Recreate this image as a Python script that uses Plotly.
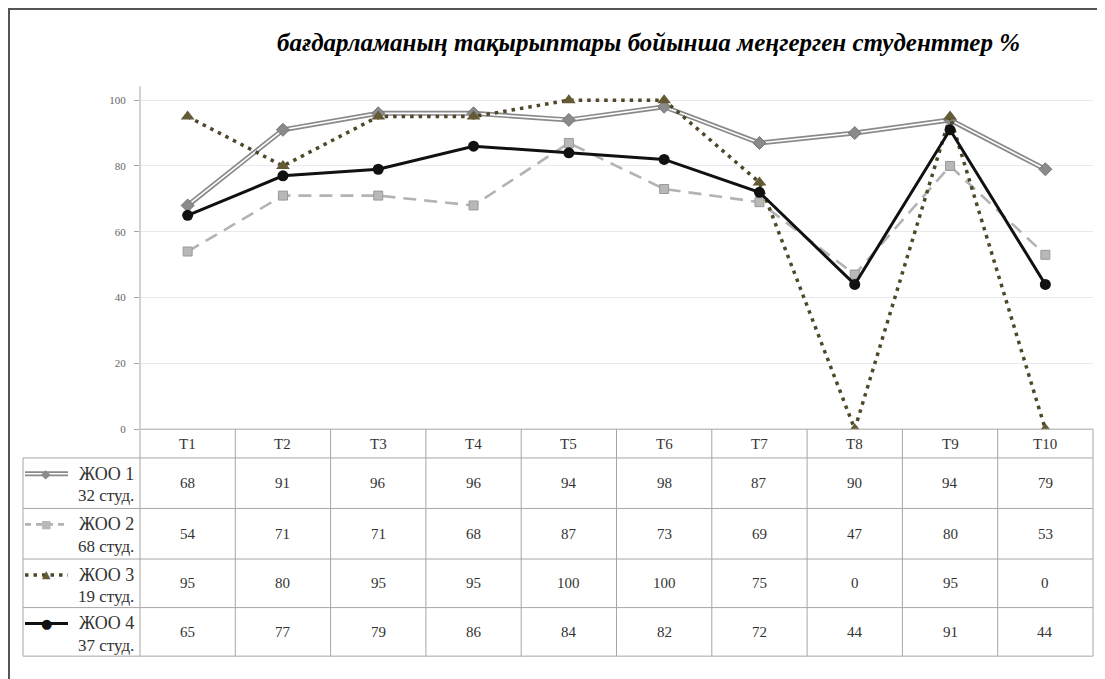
import plotly.graph_objects as go

# the page body has an 8px margin, so the figure starts at (8, 8) in the window
OFF = 8
W, H = 1105 - OFF, 679 - OFF

categories = ["T1", "T2", "T3", "T4", "T5", "T6", "T7", "T8", "T9", "T10"]
series_names = ["ЖОО 1", "ЖОО 2", "ЖОО 3", "ЖОО 4"]
series_students = ["32 студ.", "68 студ.", "19 студ.", "37 студ."]
zhoo1 = [68, 91, 96, 96, 94, 98, 87, 90, 94, 79]
zhoo2 = [54, 71, 71, 68, 87, 73, 69, 47, 80, 53]
zhoo3 = [95, 80, 95, 95, 100, 100, 75, 0, 95, 0]
zhoo4 = [65, 77, 79, 86, 84, 82, 72, 44, 91, 44]
y_ticks = [0, 20, 40, 60, 80, 100]
title_text = "бағдарламаның тақырыптары бойынша меңгерген студенттер %"

all_series = [zhoo1, zhoo2, zhoo3, zhoo4]

SERIF = "Liberation Serif"
GRID = "#a6a6a6"


def px(x):
    return (x - OFF) / W


def py(y):
    return 1 - (y - OFF) / H


# layout geometry (window pixels)
PL, PR, PT, PB = 140, 1093, 87, 433
TABLE_LEFT = 23
ROW_LINES = [462, 513, 564, 613, 662]

fig = go.Figure()

# ЖОО 1: double (compound) grey line with diamonds
fig.add_trace(go.Scatter(x=categories, y=zhoo1, mode="lines",
                         line=dict(color="#8a8a8a", width=5), showlegend=False,
                         hoverinfo="skip"))
fig.add_trace(go.Scatter(x=categories, y=zhoo1, mode="lines",
                         line=dict(color="white", width=1.6), showlegend=False,
                         hoverinfo="skip"))
fig.add_trace(go.Scatter(x=categories, y=zhoo1, mode="markers", name=series_names[0],
                         marker=dict(symbol="diamond", size=10, color="#8a8a8a",
                                     line=dict(color="#777", width=1)),
                         showlegend=False))
# ЖОО 2: dashed light grey with squares
fig.add_trace(go.Scatter(x=categories, y=zhoo2, mode="lines+markers", name=series_names[1],
                         line=dict(color="#b3b3b3", width=2.6, dash="13px,8px"),
                         marker=dict(symbol="square", size=9, color="#b8b8b8",
                                     line=dict(color="#9a9a9a", width=1)),
                         showlegend=False))
# ЖОО 3: dotted olive with triangles
fig.add_trace(go.Scatter(x=categories, y=zhoo3, mode="lines+markers", name=series_names[2],
                         line=dict(color="#4f4728", width=3.5, dash="3.5px,5px"),
                         marker=dict(symbol="triangle-up", size=12, color="#635a36"),
                         showlegend=False))
# ЖОО 4: solid black with circles
fig.add_trace(go.Scatter(x=categories, y=zhoo4, mode="lines+markers", name=series_names[3],
                         line=dict(color="#111111", width=3),
                         marker=dict(symbol="circle", size=11, color="#111111"),
                         showlegend=False))

shapes = []


def hline(y, x0, x1, color=GRID, width=1):
    shapes.append(dict(type="line", xref="paper", yref="paper",
                       x0=px(x0), x1=px(x1), y0=py(y), y1=py(y),
                       line=dict(color=color, width=width)))


def vline(x, y0, y1, color=GRID, width=1):
    shapes.append(dict(type="line", xref="paper", yref="paper",
                       x0=px(x), x1=px(x), y0=py(y0), y1=py(y1),
                       line=dict(color=color, width=width)))


# table lines
hline(PB, PL, PR)
for yl in ROW_LINES:
    hline(yl, TABLE_LEFT, PR)
vline(TABLE_LEFT, ROW_LINES[0], ROW_LINES[-1])
ncol = len(categories)
colw = (PR - PL) / ncol
for k in range(ncol + 1):
    vline(PL + k * colw, PB, ROW_LINES[-1])
vline(PL, PT, PB)

# outer frame (top & left visible)
hline(9, 8, 1110, color="#555555", width=2)
vline(9, 8, 690, color="#555555", width=2)

annotations = []

# title
annotations.append(dict(xref="paper", yref="paper", x=px(648), y=py(43),
                        text="<b><i>" + title_text + "</i></b>", showarrow=False,
                        font=dict(family=SERIF, size=25, color="#000000"),
                        xanchor="center", yanchor="middle"))

# header row
for c in categories:
    annotations.append(dict(xref="x", yref="paper", x=c, y=py((PB + ROW_LINES[0]) / 2),
                            text=c, showarrow=False,
                            font=dict(family=SERIF, size=15, color="#333333"),
                            xanchor="center", yanchor="middle"))

# data rows
for r, vals in enumerate(all_series):
    yc = (ROW_LINES[r] + ROW_LINES[r + 1]) / 2
    for c, v in zip(categories, vals):
        annotations.append(dict(xref="x", yref="paper", x=c, y=py(yc),
                                text=str(v), showarrow=False,
                                font=dict(family=SERIF, size=15, color="#333333"),
                                xanchor="center", yanchor="middle"))
    top = ROW_LINES[r]
    annotations.append(dict(xref="paper", yref="paper", x=px(136), y=py(top + 16),
                            text=series_names[r], showarrow=False,
                            font=dict(family=SERIF, size=18, color="#333333"),
                            xanchor="right", yanchor="middle"))
    annotations.append(dict(xref="paper", yref="paper", x=px(136), y=py(top + 38),
                            text=series_students[r], showarrow=False,
                            font=dict(family=SERIF, size=17, color="#333333"),
                            xanchor="right", yanchor="middle"))

# legend keys in the table
key_styles = [
    dict(line=[("#8a8a8a", 5, "solid"), ("white", 1.6, "solid")], glyph="◆", gcolor="#8a8a8a", gsize=12),
    dict(line=[("#b3b3b3", 2.6, "6px,5px")], glyph="■", gcolor="#b8b8b8", gsize=11),
    dict(line=[("#4f4728", 3.5, "3.5px,5px")], glyph="▲", gcolor="#635a36", gsize=11),
    dict(line=[("#111111", 3, "solid")], glyph="●", gcolor="#111111", gsize=13),
]
for r, ks in enumerate(key_styles):
    yk = ROW_LINES[r] + 16
    for col, wdt, dsh in ks["line"]:
        shapes.append(dict(type="line", xref="paper", yref="paper",
                           x0=px(25), x1=px(68), y0=py(yk), y1=py(yk),
                           line=dict(color=col, width=wdt, dash=dsh)))
    annotations.append(dict(xref="paper", yref="paper", x=px(46), y=py(yk),
                            text=ks["glyph"], showarrow=False,
                            font=dict(family="DejaVu Sans", size=ks["gsize"], color=ks["gcolor"]),
                            xanchor="center", yanchor="middle"))

ymax = 100 * (PB - PT) / (PB - 101)

fig.update_layout(
    width=W, height=H, autosize=False,
    margin=dict(l=0, r=0, t=0, b=0, pad=0),
    paper_bgcolor="white", plot_bgcolor="white",
    shapes=shapes, annotations=annotations,
    xaxis=dict(domain=[px(PL), px(PR)], type="category", categoryarray=categories,
               range=[-0.5, ncol - 0.5], showticklabels=False, showgrid=False,
               zeroline=False, showline=False, ticks=""),
    yaxis=dict(domain=[py(PB), py(PT)], range=[0, ymax], tickvals=y_ticks,
               showgrid=True, gridcolor="#e9e9f2", gridwidth=1, zeroline=False,
               showline=False, ticks="outside", ticklen=5, tickcolor=GRID,
               tickfont=dict(family=SERIF, size=11, color="#666666"),
               ticklabelstandoff=6),
    showlegend=False,
)

fig.write_html("out.html")
